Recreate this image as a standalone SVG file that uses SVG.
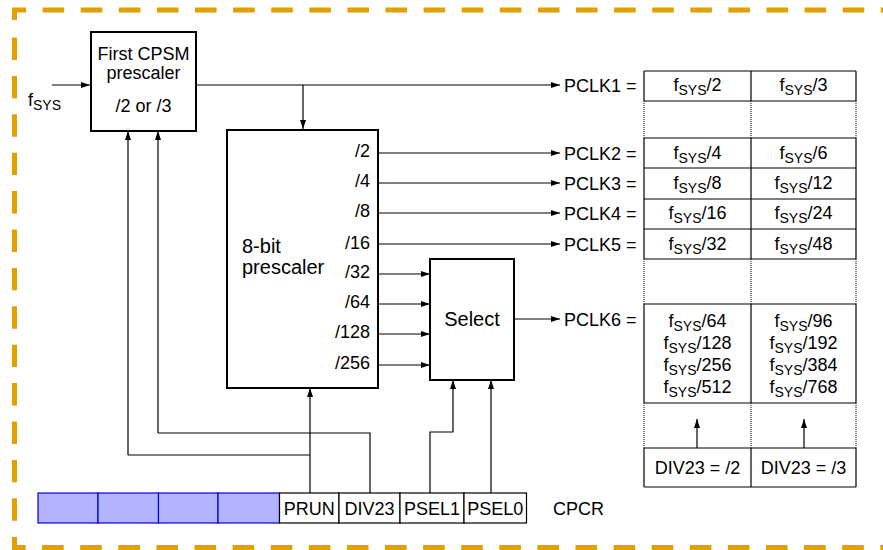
<svg xmlns="http://www.w3.org/2000/svg" width="883" height="550" viewBox="0 0 883 550">
<defs>
<style>
text{font-family:"Liberation Sans",Arial,Helvetica,sans-serif;fill:#000}
.t18{font-size:18px}
.t20{font-size:20px}
.sub{font-size:14px}
.box{fill:#fff;stroke:#000;stroke-width:2}
.ln{fill:none;stroke:#000;stroke-width:1.2}
.arr{fill:none;stroke:#000;stroke-width:1.2;marker-end:url(#ah)}
.tb{fill:none;stroke:#000;stroke-width:1.2}
.dot{fill:none;stroke:#333;stroke-width:1.2;stroke-dasharray:1 1}
.frame{fill:none;stroke:#E0A000;stroke-width:5}
.blue{fill:#B3B3FF;stroke:#0000DD;stroke-width:1.2}
.reg{fill:#fff;stroke:#000;stroke-width:1.2}
</style>
<marker id="ah" viewBox="0 0 9 6" refX="9" refY="3" markerWidth="9" markerHeight="6" markerUnits="userSpaceOnUse" orient="auto">
<path d="M0,0 L9,3 L0,6 z" fill="#000"/>
</marker>
</defs>
<rect width="883" height="550" fill="#fff"/>

<g id="frame">
<path class="frame" d="M14.5,20 V10 H890" stroke-dasharray="21.6 16.5"/>
<path class="frame" d="M14.5,537 V547.5 H890" stroke-dasharray="21.6 16.5"/>
<path class="frame" d="M14.5,37.5 V521" stroke-dasharray="22.4 16"/>
</g>

<g id="connectors">
<path class="arr" d="M52,85 H90"/>
<path class="arr" d="M196,85 H560"/>
<path class="arr" d="M303,85 V129"/>
<path class="arr" d="M378,153 H560"/>
<path class="arr" d="M378,183 H560"/>
<path class="arr" d="M378,213 H560"/>
<path class="arr" d="M378,244 H560"/>
<path class="arr" d="M378,274 H430"/>
<path class="arr" d="M378,304 H430"/>
<path class="arr" d="M378,334 H430"/>
<path class="arr" d="M378,365 H430"/>
<path class="arr" d="M514,319 H560"/>
<path class="arr" d="M310,493 V388"/>
<path class="ln" d="M310,455 H128"/>
<path class="arr" d="M128,455 V131"/>
<path class="ln" d="M370,493 V433 H158"/>
<path class="arr" d="M158,433 V131"/>
<path class="arr" d="M430,493 V432 H453 V380"/>
<path class="arr" d="M491,493 V380"/>
<path class="arr" d="M697,448 V419"/>
<path class="arr" d="M804,448 V419"/>
</g>

<g id="fsys-in">
<text class="t18" x="28" y="106">f<tspan class="sub" dy="4">SYS</tspan></text>
</g>

<g id="cpsm">
<rect class="box" x="91" y="32" width="105" height="99"/>
<text class="t18" x="143.5" y="60" text-anchor="middle">First CPSM</text>
<text class="t18" x="143.5" y="79" text-anchor="middle">prescaler</text>
<text class="t18" x="143.5" y="112" text-anchor="middle">/2 or /3</text>
</g>

<g id="prescaler8">
<rect class="box" x="227" y="130" width="151" height="258"/>
<text class="t20" x="242" y="253">8-bit</text>
<text class="t20" x="242" y="274">prescaler</text>
<g class="t18" text-anchor="end">
<text x="370" y="157">/2</text>
<text x="370" y="187">/4</text>
<text x="370" y="217">/8</text>
<text x="370" y="249">/16</text>
<text x="370" y="278">/32</text>
<text x="370" y="308">/64</text>
<text x="370" y="338">/128</text>
<text x="370" y="369">/256</text>
</g>
</g>

<g id="select">
<rect class="box" x="430" y="259" width="84" height="121"/>
<text class="t20" x="472" y="326" text-anchor="middle">Select</text>
</g>

<g id="pclk-labels" class="t18">
<text x="564" y="91.5">PCLK1 =</text>
<text x="564" y="159.5">PCLK2 =</text>
<text x="564" y="189.5">PCLK3 =</text>
<text x="564" y="219.5">PCLK4 =</text>
<text x="564" y="250.5">PCLK5 =</text>
<text x="564" y="325.5">PCLK6 =</text>
</g>

<g id="table">
<path class="tb" d="M644,71 H856 M644,101 H856 M644,138 H856 M644,168 H856 M644,199 H856 M644,229 H856 M644,259 H856 M644,304 H856 M644,403 H856 M644,448 H856 M644,487 H856"/>
<path class="tb" d="M644,71 V101 M751,71 V101 M856,71 V101 M644,138 V259 M751,138 V259 M856,138 V259 M644,304 V403 M751,304 V403 M856,304 V403 M644,448 V487 M751,448 V487 M856,448 V487"/>
<path class="dot" d="M644,101 V138 M751,101 V138 M856,101 V138 M644,259 V304 M751,259 V304 M856,259 V304 M644,403 V448 M751,403 V448 M856,403 V448"/>
<g class="t18" text-anchor="middle">
<text x="697.5" y="91">f<tspan class="sub" dy="4">SYS</tspan><tspan dy="-4">/2</tspan></text>
<text x="803.5" y="91">f<tspan class="sub" dy="4">SYS</tspan><tspan dy="-4">/3</tspan></text>
<text x="697.5" y="159">f<tspan class="sub" dy="4">SYS</tspan><tspan dy="-4">/4</tspan></text>
<text x="803.5" y="159">f<tspan class="sub" dy="4">SYS</tspan><tspan dy="-4">/6</tspan></text>
<text x="697.5" y="189">f<tspan class="sub" dy="4">SYS</tspan><tspan dy="-4">/8</tspan></text>
<text x="803.5" y="189">f<tspan class="sub" dy="4">SYS</tspan><tspan dy="-4">/12</tspan></text>
<text x="697.5" y="219">f<tspan class="sub" dy="4">SYS</tspan><tspan dy="-4">/16</tspan></text>
<text x="803.5" y="219">f<tspan class="sub" dy="4">SYS</tspan><tspan dy="-4">/24</tspan></text>
<text x="697.5" y="250">f<tspan class="sub" dy="4">SYS</tspan><tspan dy="-4">/32</tspan></text>
<text x="803.5" y="250">f<tspan class="sub" dy="4">SYS</tspan><tspan dy="-4">/48</tspan></text>
<text x="697.5" y="327">f<tspan class="sub" dy="4">SYS</tspan><tspan dy="-4">/64</tspan></text>
<text x="697.5" y="349">f<tspan class="sub" dy="4">SYS</tspan><tspan dy="-4">/128</tspan></text>
<text x="697.5" y="371">f<tspan class="sub" dy="4">SYS</tspan><tspan dy="-4">/256</tspan></text>
<text x="697.5" y="393">f<tspan class="sub" dy="4">SYS</tspan><tspan dy="-4">/512</tspan></text>
<text x="803.5" y="327">f<tspan class="sub" dy="4">SYS</tspan><tspan dy="-4">/96</tspan></text>
<text x="803.5" y="349">f<tspan class="sub" dy="4">SYS</tspan><tspan dy="-4">/192</tspan></text>
<text x="803.5" y="371">f<tspan class="sub" dy="4">SYS</tspan><tspan dy="-4">/384</tspan></text>
<text x="803.5" y="393">f<tspan class="sub" dy="4">SYS</tspan><tspan dy="-4">/768</tspan></text>
<text x="697.5" y="474">DIV23 = /2</text>
<text x="803.5" y="474">DIV23 = /3</text>
</g>
</g>

<g id="cpcr">
<rect class="blue" x="38" y="493" width="60" height="30"/>
<rect class="blue" x="98" y="493" width="60.5" height="30"/>
<rect class="blue" x="158.5" y="493" width="59.5" height="30"/>
<rect class="blue" x="218" y="493" width="61.5" height="30"/>
<rect class="reg" x="279.5" y="493" width="59.5" height="30"/>
<rect class="reg" x="339" y="493" width="61" height="30"/>
<rect class="reg" x="400" y="493" width="64" height="30"/>
<rect class="reg" x="464" y="493" width="62.5" height="30"/>
<g class="t18" text-anchor="middle">
<text x="309.2" y="515">PRUN</text>
<text x="369.5" y="515">DIV23</text>
<text x="432" y="515">PSEL1</text>
<text x="495.2" y="515">PSEL0</text>
</g>
<text class="t18" x="553" y="515">CPCR</text>
</g>
</svg>
